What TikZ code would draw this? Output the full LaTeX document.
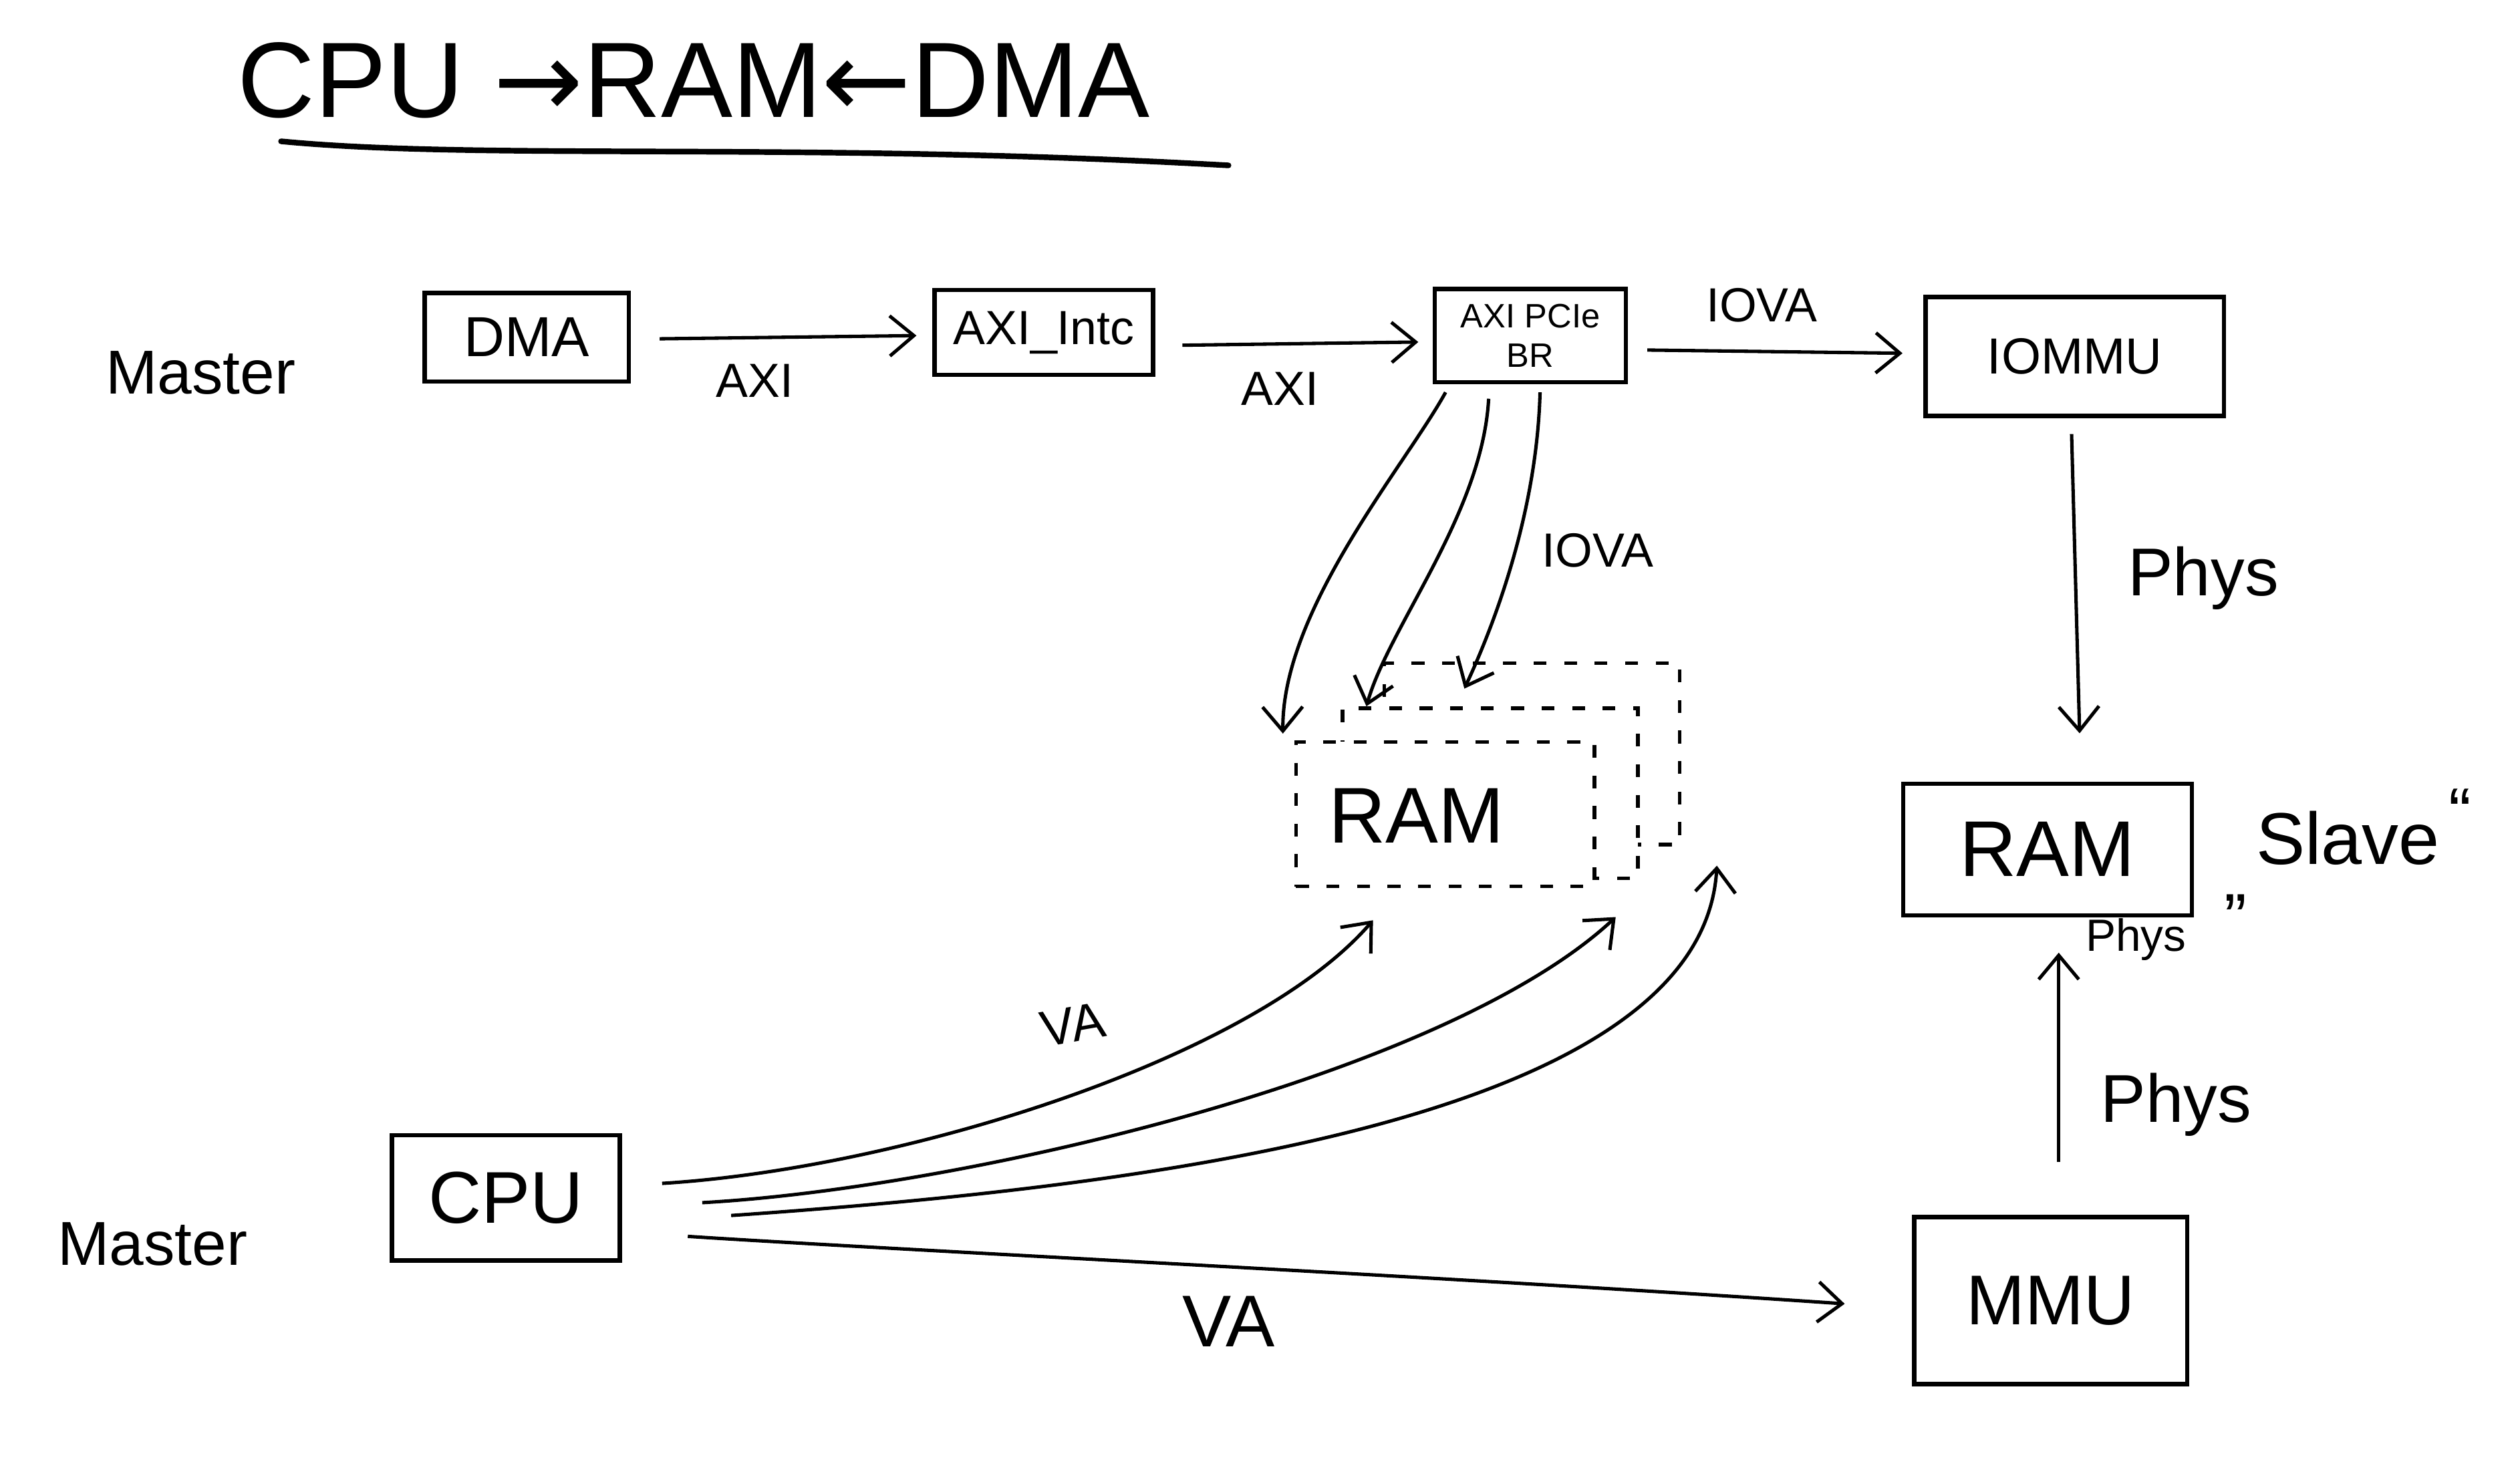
\documentclass[tikz,border=0pt]{standalone}
\usepackage{fontspec}
\setmainfont{Liberation Sans}
\newfontfamily\arrowfont{DejaVu Sans}
\usetikzlibrary{arrows.meta,calc}
\newcommand{\fs}[1]{\fontsize{#1}{1.15\dimexpr#1\relax}\selectfont}
\begin{document}
\begin{tikzpicture}[x=0.02cm,y=-0.02cm,
  box/.style={draw,line width=1.5pt,rectangle,inner sep=0pt},
  dbox/.style={draw,line width=1.3pt,fill=white,dash pattern=on 0.16cm off 0.22cm,rectangle,inner sep=0pt},
  conn/.style={line width=1.2pt,-{Straight Barb[length=0.3cm,width=0.5cm,line width=1.2pt]}},
  lbl/.style={inner sep=0pt},
]
\useasboundingbox (0,0) rectangle (1568,924);
\fill[white] (0,0) rectangle (1568,924);

% title
\node[lbl] (title) at (432,50) {\fs{38pt}CPU {\arrowfont →}RAM{\arrowfont ←}DMA};
\draw[line width=2pt,line cap=round] (175,88) .. controls (300,100) and (500,88) .. (765,103);

% labels
\node[lbl] (master1) at (125,232) {\fs{22pt}Master};
\node[lbl] (master2) at (95,775) {\fs{22pt}Master};

% top row boxes
\node[box,minimum width=2.54cm,minimum height=1.1cm] (dma) at (328,210) {\fs{20pt}DMA};
\node[box,minimum width=2.72cm,minimum height=1.06cm] (intc) at (650,207) {\fs{17pt}AXI\_Intc};
\node[box,minimum width=2.38cm,minimum height=1.16cm,align=center,font=\fs{12pt}] (br) at (953,209) {AXI PCIe\\BR};
\node[box,minimum width=3.72cm,minimum height=1.48cm] (iommu) at (1292,222) {\fs{18pt}IOMMU};

% right side
\node[box,minimum width=3.6cm,minimum height=1.64cm] (ramR) at (1275,529) {\fs{28pt}RAM};
\node[box,minimum width=3.4cm,minimum height=2.08cm] (mmu) at (1277,810) {\fs{25pt}MMU};
\node[lbl] (slave) at (1462,522) {\fs{26pt}Slave};
\node[lbl] (qopen) at (1392,562) {\fs{24pt}„};
\node[lbl] (qclose) at (1532,506) {\fs{24pt}“};

% CPU
\node[box,minimum width=2.84cm,minimum height=1.56cm] (cpu) at (315,746) {\fs{26pt}CPU};

% dashed RAM stack
\node[dbox,minimum width=3.68cm,minimum height=2.26cm] (ramB) at (954,469.5) {};
\node[dbox,minimum width=3.68cm,minimum height=2.12cm] (ramM) at (928,494) {};
\node[dbox,minimum width=3.72cm,minimum height=1.8cm] (ramF) at (900,507) {};
\node[lbl] (ramtxt) at (882,508) {\fs{28pt}RAM};

% top row connectors
\draw[conn] ($(dma.east)+(18,1)$) -- ($(intc.west)+(-10,2)$);
\node[lbl] (axi1) at (470,237) {\fs{17pt}AXI};
\draw[conn] ($(intc.east)+(17,8)$) -- ($(br.west)+(-9,4)$);
\node[lbl] (axi2) at (797,242) {\fs{17pt}AXI};
\draw[conn] ($(br.east)+(12,9)$) -- ($(iommu.west)+(-13,-2)$);
\node[lbl] (iova1) at (1097,190) {\fs{17pt}IOVA};

% IOMMU -> RAM, MMU -> RAM
\draw[conn] ($(iommu.south)+(-2,10)$) -- ($(ramR.north)+(20,-30)$);
\node[lbl] (phys1) at (1372,360) {\fs{24pt}Phys};
\draw[conn] ($(mmu.north)+(5,-33)$) -- ($(ramR.south)+(7,22)$);
\node[lbl] (phys2) at (1330,585) {\fs{16pt}Phys};
\node[lbl] (phys3) at (1355,688) {\fs{24pt}Phys};

% BR -> RAM (IOVA)
\draw[conn] ($(br.south west)+(8,5)$) .. controls (875,290) and (798,380) .. ($(ramF.north west)+(-7,-4)$);
\draw[conn] ($(br.south)+(-26,9)$) .. controls (923,320) and (865,390) .. ($(ramM.north west)+(16,0)$);
\draw[conn] ($(br.south)+(6,5)$) .. controls (957,320) and (930,390) .. ($(ramB.north west)+(51,17)$);
\node[lbl] (iova2) at (995,343) {\fs{17pt}IOVA};

% CPU -> RAM (VA)
\draw[conn] ($(cpu.east)+(25,-9)$) .. controls (560,728) and (780,660) .. ($(ramF.south)+(-45,20)$);
\draw[conn] ($(cpu.east)+(50,3)$) .. controls (600,740) and (900,670) .. ($(ramF.south east)+(12,18)$);
\draw[conn] ($(cpu.east)+(68,11)$) .. controls (700,740) and (1060,700) .. ($(ramB.south east)+(22,12)$);
\node[lbl,rotate=10] (va1) at (668,638) {\fs{18pt}VA};

% CPU -> MMU
\draw[conn] ($(cpu.east)+(41,24)$) .. controls (550,778) and (900,795) .. ($(mmu.west)+(-42,2)$);
\node[lbl] (va2) at (765,823) {\fs{26pt}VA};
\end{tikzpicture}
\end{document}
